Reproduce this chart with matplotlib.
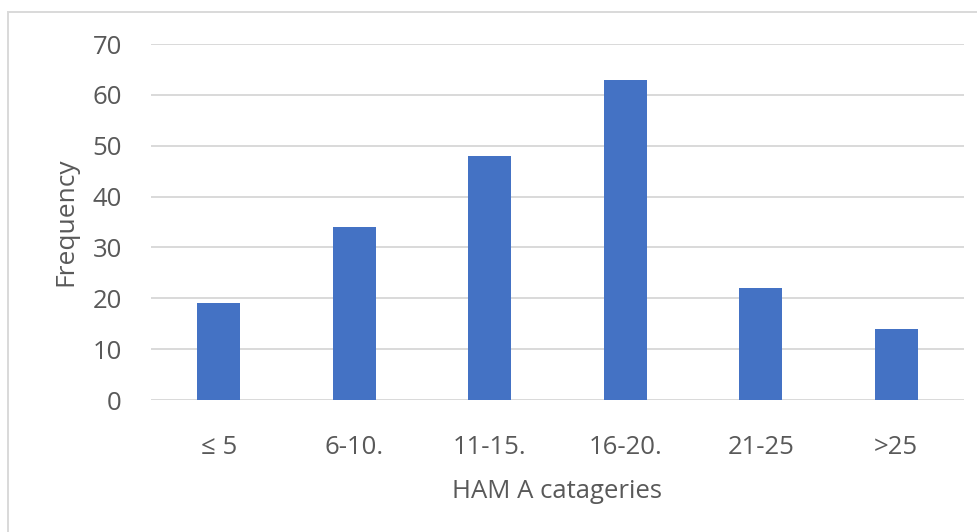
import matplotlib
matplotlib.use("Agg")
import matplotlib.pyplot as plt
from matplotlib.patches import Rectangle

categories = ["≤ 5", "6-10.", "11-15.", "16-20.", "21-25", ">25"]
frequency = [19, 34, 48, 63, 22, 14]
y_ticks = [0, 10, 20, 30, 40, 50, 60, 70]

plt.rcParams["font.family"] = ["Open Sans", "DejaVu Sans"]
text_color = "#595959"
bar_color = "#4472C4"
grid_color = "#D9D9D9"
fs = 18.5

fig = plt.figure(figsize=(9.77, 5.32), dpi=100)
ax = fig.add_axes([151 / 977, 1 - 400 / 532, (964 - 151) / 977, (400 - 44) / 532])

x = range(len(categories))
ax.bar(x, frequency, width=0.32, color=bar_color, zorder=3)

ax.set_xlim(-0.5, len(categories) - 0.5)
ax.set_ylim(0, 70)
ax.set_yticks(y_ticks)
ax.set_xticks(list(x))
ax.set_xticklabels(categories)
ax.yaxis.grid(True, color=grid_color, linewidth=1.4, zorder=0)
ax.set_axisbelow(True)
for side in ["top", "right", "left", "bottom"]:
    ax.spines[side].set_visible(False)
ax.tick_params(axis="both", length=0, labelsize=fs, labelcolor=text_color)
ax.tick_params(axis="y", pad=21)
ax.tick_params(axis="x", pad=25)

ax.set_xlabel("HAM A catageries", fontsize=fs, color=text_color, labelpad=14)
ax.set_ylabel("Frequency", fontsize=fs + 0.5, color=text_color, labelpad=10)

# chart area border
fig.patches.append(Rectangle((8 / 977, -0.01), 1.0, 1 - 12 / 532 + 0.01,
                             transform=fig.transFigure, fill=False,
                             edgecolor=grid_color, linewidth=1.4))

fig.savefig("out.png", dpi=100)
